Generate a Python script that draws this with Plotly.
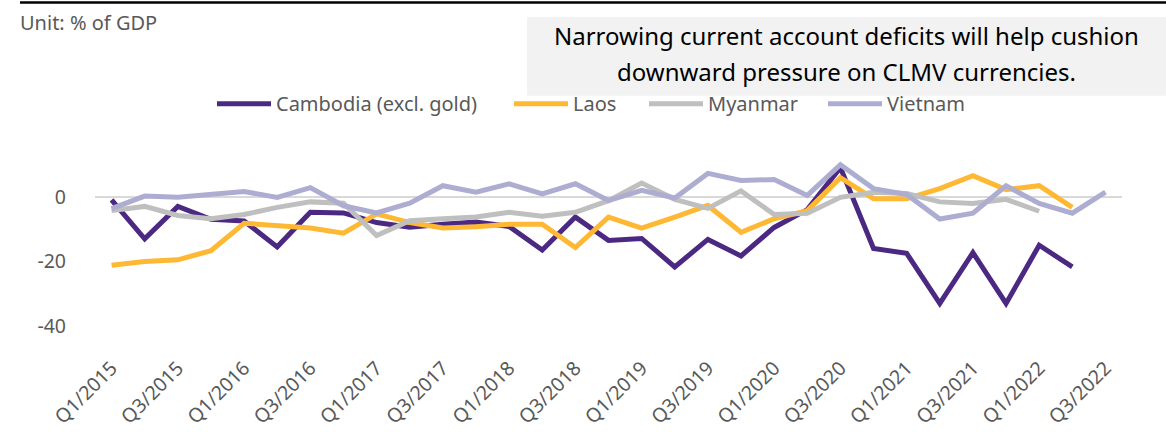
import plotly.graph_objects as go

W, H = 1166, 432

quarters = []
for y in range(2015, 2023):
    for q in range(1, 5):
        quarters.append(f"Q{q}/{y}")
quarters = quarters[:31]  # Q1/2015 .. Q3/2022
tick_labels = quarters[::2]

cambodia = [-1, -13, -3, -7, -7.5, -15.5, -4.8, -5, -8, -9.4, -8.5, -7.8, -9.2, -16.5, -6.3,
            -13.5, -12.9, -21.7, -13.2, -18.3, -9.5, -4, 9, -16, -17.5, -33, -17.3, -33, -15, -21.7]
laos = [-21.2, -20, -19.5, -16.7, -8.2, -9, -9.7, -11.3, -5.3, -8, -9.7, -9.3, -8.5, -8.5, -15.7,
        -6.3, -9.7, -6.3, -2.7, -11, -6.8, -4.3, 5.9, -0.6, -0.6, 2.5, 6.5, 2.2, 3.4, -3.3]
myanmar = [-4.3, -3, -5.8, -6.8, -5.5, -3.3, -1.6, -2, -12, -7.4, -6.8, -6.3, -4.8, -6, -4.8,
           -1.2, 4.2, -0.8, -3.6, 1.8, -5.5, -5.1, -0.2, 1.4, 1, -1.6, -2.1, -0.8, -4.5]
vietnam = [-3.7, 0.2, -0.2, 0.6, 1.6, -0.2, 2.8, -2.8, -5, -2, 3.4, 1.4, 4, 0.9, 4,
           -1.2, 2, -0.4, 7.2, 5, 5.3, 0.4, 9.9, 2.5, 0.7, -6.9, -5.1, 3.4, -2.1, -5.1, 1.4]

series = [
    ("Cambodia (excl. gold)", cambodia, "#4B2882"),
    ("Laos", laos, "#FFB833"),
    ("Myanmar", myanmar, "#BFBFBF"),
    ("Vietnam", vietnam, "#ADADD2"),
]

FONT = "Noto Sans"
GREY = "#595959"

# plot area in pixels
PL, PR, PT, PB = 95, 1122, 131.5, 352.5


def px(x):
    return (x - PL) / (PR - PL)


def py(y):
    return (PB - y) / (PB - PT)


legend_ids = ["legend", "legend2", "legend3", "legend4"]
legend_x = [212, 509, 644, 823]  # pixel left edges of each legend entry

fig = go.Figure()
for (name, vals, color), lid in zip(series, legend_ids):
    fig.add_trace(go.Scatter(
        x=quarters[:len(vals)], y=vals, name=name, mode="lines",
        line=dict(color=color, width=5), legend=lid,
    ))

legend_common = dict(
    orientation="h", xanchor="left", yanchor="middle",
    font=dict(size=20, color=GREY, family=FONT), itemwidth=54,
    bgcolor="rgba(0,0,0,0)",
)
layout_legends = {}
for lid, lx in zip(legend_ids, legend_x):
    layout_legends[lid] = dict(legend_common, x=px(lx), y=py(103))

fig.update_layout(
    width=W, height=H,
    margin=dict(l=PL, r=W - PR, t=PT, b=H - PB, pad=0, autoexpand=False),
    paper_bgcolor="white", plot_bgcolor="white",
    font=dict(family=FONT, color=GREY),
    showlegend=True,
    **layout_legends,
    xaxis=dict(
        type="category", categoryorder="array", categoryarray=quarters,
        range=[-0.5, 30.5], tickmode="array", tickvals=tick_labels, ticktext=tick_labels,
        tickangle=-45, tickfont=dict(size=19.5, color=GREY), showgrid=False,
        showline=False, zeroline=False, ticks="", automargin=False,
    ),
    yaxis=dict(
        range=[-48, 20], tickvals=[-40, -20, 0], ticktext=["-40", "-20", "0"],
        tickfont=dict(size=19.5, color=GREY), showgrid=False, zeroline=True,
        zerolinecolor="#D9D9D9", zerolinewidth=2, showline=False, ticks="",
        ticklabelstandoff=28, automargin=False,
    ),
    shapes=[
        dict(type="line", xref="paper", yref="paper", x0=px(20), x1=px(1166), y0=py(1.5), y1=py(1.5),
             line=dict(color="black", width=2.5), layer="above"),
        dict(type="rect", xref="paper", yref="paper", x0=px(527), x1=px(1166), y0=py(16), y1=py(95),
             fillcolor="#F2F2F2", line=dict(width=0), layer="below"),
    ],
    annotations=[
        dict(text="Unit: % of GDP", xref="paper", yref="paper", x=px(18), y=py(21),
             xanchor="left", yanchor="middle", showarrow=False, font=dict(size=20, color=GREY)),
        dict(text="Narrowing current account deficits will help cushion", xref="paper", yref="paper",
             x=px(846), y=py(35), xanchor="center", yanchor="middle", showarrow=False,
             font=dict(size=24, color="black")),
        dict(text="downward pressure on CLMV currencies.", xref="paper", yref="paper",
             x=px(846), y=py(71), xanchor="center", yanchor="middle", showarrow=False,
             font=dict(size=24, color="black")),
    ],
)

fig.write_html("out.html")
